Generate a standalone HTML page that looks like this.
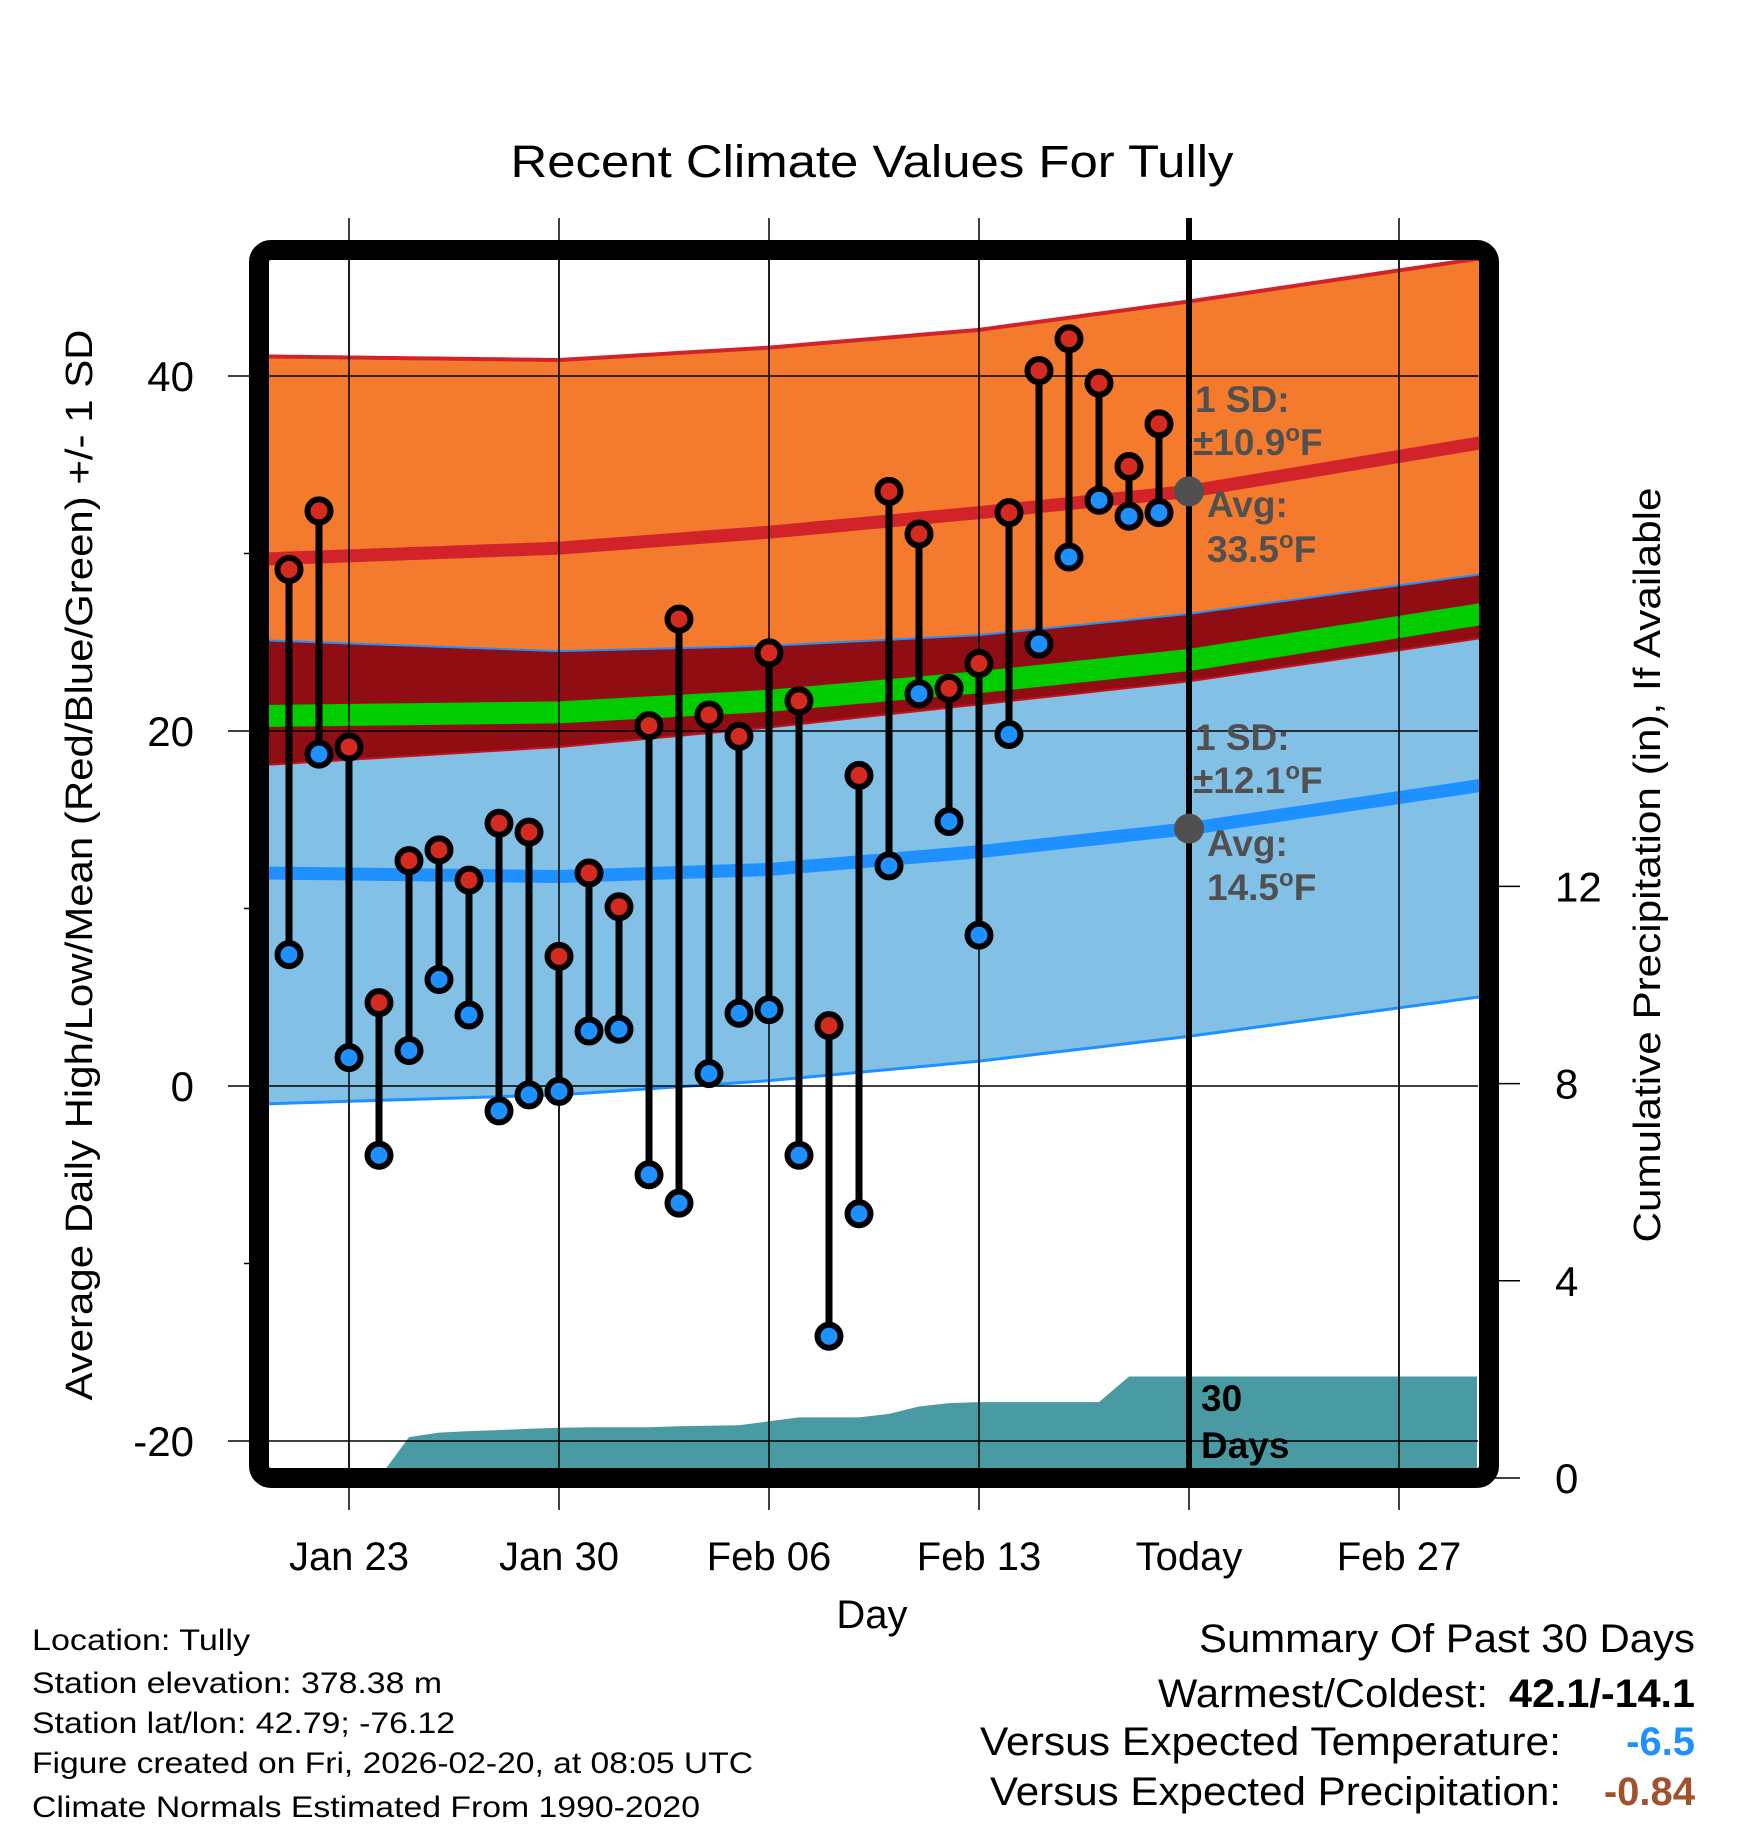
<!DOCTYPE html>
<html><head><meta charset="utf-8">
<style>
html,body{margin:0;padding:0;background:#fff;}
svg{display:block;font-family:"Liberation Sans",Arial,sans-serif;}
</style></head>
<body>
<svg id="chart" width="1748" height="1828" viewBox="0 0 1748 1828" xmlns="http://www.w3.org/2000/svg">
<defs><clipPath id="plotclip"><rect x="269" y="260" width="1210" height="1208"/></clipPath></defs>
<rect x="0" y="0" width="1748" height="1828" fill="#fff"/>
<g id="grid"></g>
<g id="bands" clip-path="url(#plotclip)"></g>
<g id="marks" clip-path="url(#plotclip)"></g>
<g id="labels"></g>
<rect x="259" y="250" width="1230" height="1228" rx="12" fill="none" stroke="#000" stroke-width="20"/>
<text x="872" y="177" text-anchor="middle" font-size="45" textLength="723" lengthAdjust="spacingAndGlyphs">Recent Climate Values For Tully</text>
<text x="872" y="1628" text-anchor="middle" font-size="40">Day</text>
<text transform="translate(92,865) rotate(-90)" text-anchor="middle" font-size="38" textLength="1071" lengthAdjust="spacingAndGlyphs">Average Daily High/Low/Mean (Red/Blue/Green) +/- 1 SD</text>
<text transform="translate(1660,865) rotate(-90)" text-anchor="middle" font-size="38" textLength="755" lengthAdjust="spacingAndGlyphs">Cumulative Precipitation (in), If Available</text>
<g font-size="30">
<text x="32" y="1650" textLength="218" lengthAdjust="spacingAndGlyphs">Location: Tully</text>
<text x="32" y="1693" textLength="410" lengthAdjust="spacingAndGlyphs">Station elevation: 378.38 m</text>
<text x="32" y="1733" textLength="423" lengthAdjust="spacingAndGlyphs">Station lat/lon: 42.79; -76.12</text>
<text x="32" y="1773" textLength="721" lengthAdjust="spacingAndGlyphs">Figure created on Fri, 2026-02-20, at 08:05 UTC</text>
<text x="32" y="1817" textLength="668" lengthAdjust="spacingAndGlyphs">Climate Normals Estimated From 1990-2020</text>
</g>
<g font-size="40">
<text x="1695" y="1652" text-anchor="end" textLength="496" lengthAdjust="spacingAndGlyphs">Summary Of Past 30 Days</text>
<text x="1488" y="1707" text-anchor="end" textLength="330" lengthAdjust="spacingAndGlyphs">Warmest/Coldest:</text>
<text x="1695" y="1707" text-anchor="end" font-weight="bold" textLength="186" lengthAdjust="spacingAndGlyphs">42.1/-14.1</text>
<text x="1561" y="1755" text-anchor="end" textLength="581" lengthAdjust="spacingAndGlyphs">Versus Expected Temperature:</text>
<text x="1695" y="1755" text-anchor="end" font-weight="bold" fill="#1e90ff">-6.5</text>
<text x="1561" y="1805" text-anchor="end" textLength="571" lengthAdjust="spacingAndGlyphs">Versus Expected Precipitation:</text>
<text x="1695" y="1805" text-anchor="end" font-weight="bold" fill="#a0522d">-0.84</text>
</g>
</svg>
<script>
// day index: 0 = Jan 21
const dayLabels = ["Jan 23","Jan 30","Feb 06","Feb 13","Today","Feb 27"];
const dayTickIdx = [2,9,16,23,30,37];
const highs = [29.1,32.4,19.1,4.7,12.7,13.3,11.6,14.8,14.3,7.3,12.0,10.1,20.3,26.3,20.9,19.7,24.4,21.7,3.4,17.5,33.5,31.1,22.4,23.8,32.3,40.3,42.1,39.6,34.9,37.3];
const lows = [7.4,18.7,1.6,-3.9,2.0,6.0,4.0,-1.4,-0.5,-0.3,3.1,3.2,-5.0,-6.6,0.7,4.1,4.3,-3.9,-14.1,-7.2,12.4,22.1,14.9,8.5,19.8,24.9,29.8,33.0,32.1,32.3];
const normDays = [-0.7,9,16,23,30,39.6];
const highMean = [29.7,30.3,31.2,32.3,33.5,36.2];
const highUpper = [41.1,40.9,41.6,42.6,44.2,46.6];
const highLower = [25.1,24.5,24.8,25.4,26.6,28.8];
const lowMean = [12.0,11.8,12.2,13.2,14.5,16.9];
const lowUpper = [18.1,19.1,20.2,21.5,22.8,25.2];
const lowLower = [-1.0,-0.5,0.3,1.4,2.8,5.0];
const precipDays = [3,4,5,6,7,8,9,10,11,12,13,14,15,16,17,18,19,20,21,22,23,24,25,26,27,28,29,30,39.6];
const precipVals = [0,0.83,0.92,0.95,0.97,1.0,1.02,1.03,1.03,1.03,1.05,1.06,1.07,1.15,1.23,1.23,1.23,1.30,1.45,1.52,1.54,1.54,1.54,1.54,1.54,2.06,2.06,2.06,2.06];
const tempTicks = [40,20,0,-20];
const tempMinor = [30,10,-10];
const precipTicks = [0,4,8,12];
const sdHigh = "10.9", avgHigh = "33.5", sdLow = "12.1", avgLow = "14.5";

const NS="http://www.w3.org/2000/svg";
const X = d => 289 + d*30;
const Y = v => 1086 - v*17.75;
const YP = p => 1478 - p*49.3;
function mk(tag, attrs, parent){ const e=document.createElementNS(NS,tag); for(const k in attrs) e.setAttribute(k,attrs[k]); parent.appendChild(e); return e; }
const grid=document.getElementById('grid'), bands=document.getElementById('bands'), marks=document.getElementById('marks'), labels=document.getElementById('labels');

function curve(vals){ const pts=[]; for(let d=-1; d<=40; d+=0.5){ let i=0; while(i<normDays.length-2 && d>normDays[i+1]) i++; const t=(d-normDays[i])/(normDays[i+1]-normDays[i]); pts.push([X(d), Y(vals[i]+(vals[i+1]-vals[i])*t)]); } return pts; }
function band(up, lo, fill){ const a=curve(up), b=curve(lo).reverse(); return mk('polygon',{points:a.concat(b).map(q=>q.join(',')).join(' '),fill:fill},bands); }
function line(vals, stroke, w){ return mk('polyline',{points:curve(vals).map(q=>q.join(',')).join(' '),fill:'none',stroke:stroke,'stroke-width':w},bands); }

let el;
el = band(highUpper, highLower, '#f47a2e');


el = band(lowUpper, lowLower, '#82c0e6');


el = band(highLower, lowUpper, '#900d14');


const meanMid = highMean.map((h,i)=>(h+lowMean[i])/2);
el = line(meanMid, '#00cc00', 22);


el = line(highUpper, '#d2232a', 4);


el = line(highLower, '#1e90ff', 2);


el = line(lowUpper, '#c0141c', 2);


el = line(lowLower, '#1e90ff', 3);


el = line(highMean, '#d2232a', 13);


el = line(lowMean, '#1e90ff', 13);



{ let pts=[[X(precipDays[0]),YP(-1)]]; precipDays.forEach((d,i)=>pts.push([X(d),YP(precipVals[i])])); pts.push([X(precipDays[precipDays.length-1]),YP(-1)]);
  const p=mk('polygon',{points:pts.map(q=>q.join(',')).join(' '),fill:'#4a9aa3'},bands);
  
   }

dayTickIdx.forEach((d,i)=>{
  const l=mk('line',{x1:X(d),x2:X(d),y1:218,y2:1510,stroke:'#000','stroke-width':1.5},grid);
  
  
  const t=mk('text',{x:X(d),y:1570,'text-anchor':'middle','font-size':40},labels); t.textContent=dayLabels[i];
  
  
});
tempTicks.forEach(v=>{
  const l=mk('line',{x1:228,x2:1478,y1:Y(v),y2:Y(v),stroke:'#000','stroke-width':1.5},labels);
  
  
  const t=mk('text',{x:194,y:Y(v)+15,'text-anchor':'end','font-size':42},labels); t.textContent=String(v);
  
  
});
tempMinor.forEach(v=>{
  const l=mk('line',{x1:244,x2:260,y1:Y(v),y2:Y(v),stroke:'#000','stroke-width':1.5},grid);
  
  
});
precipTicks.forEach(p=>{
  const l=mk('line',{x1:1490,x2:1520,y1:YP(p),y2:YP(p),stroke:'#000','stroke-width':1.5},labels);
  
  
  const t=mk('text',{x:1555,y:YP(p)+15,'font-size':42},labels); t.textContent=String(p);
  
  
});
// vertical gridlines over bands (thin)
dayTickIdx.forEach(d=>{
  const l=mk('line',{x1:X(d),x2:X(d),y1:260,y2:1468,stroke:'#000','stroke-width':1.5},labels);
  
  
});

{ const l=mk('line',{x1:X(30),x2:X(30),y1:218,y2:1478,stroke:'#000','stroke-width':6},labels);
  
   }

highs.forEach((h,i)=>{
  const x=X(i);
  const s=mk('line',{x1:x,x2:x,y1:Y(h),y2:Y(lows[i]),stroke:'#000','stroke-width':7},marks);
  
  
});
highs.forEach((h,i)=>{
  const x=X(i);
  const c1=mk('circle',{cx:x,cy:Y(h),r:11.5,fill:'#d42a20',stroke:'#000','stroke-width':6},marks);
  
  
  const c2=mk('circle',{cx:x,cy:Y(lows[i]),r:11.5,fill:'#1e90ff',stroke:'#000','stroke-width':6},marks);
  
  
});
// move marks above gridline overlays
document.getElementById('chart').appendChild(marks);

function ann(txt, x, y){ const t=mk('text',{x:x,y:y,'font-size':37,'font-weight':'bold',fill:'#505050'},labels); t.innerHTML=txt; return t; }
{ const c=mk('circle',{cx:X(30),cy:Y(+avgHigh),r:15,fill:'#505050'},labels);
  
  
  const c2=mk('circle',{cx:X(30),cy:Y(+avgLow),r:15,fill:'#505050'},labels);
  
   }
const deg='<tspan dy="-14" font-size="24">o</tspan><tspan dy="14">F</tspan>';
el = ann('1 SD:',1195,412);


el = ann('±'+sdHigh+deg,1193,455);


el = ann('Avg:',1207,517);


el = ann(avgHigh+deg,1207,562);


el = ann('1 SD:',1195,750);


el = ann('±'+sdLow+deg,1193,793);


el = ann('Avg:',1207,856);


el = ann(avgLow+deg,1207,900);


{ const t1=mk('text',{x:1201,y:1411,'font-size':37,'font-weight':'bold'},labels); t1.textContent='30';
  
  
  const t2=mk('text',{x:1201,y:1458,'font-size':37,'font-weight':'bold'},labels); t2.textContent='Days';
  
   }
</script>
</body></html>
